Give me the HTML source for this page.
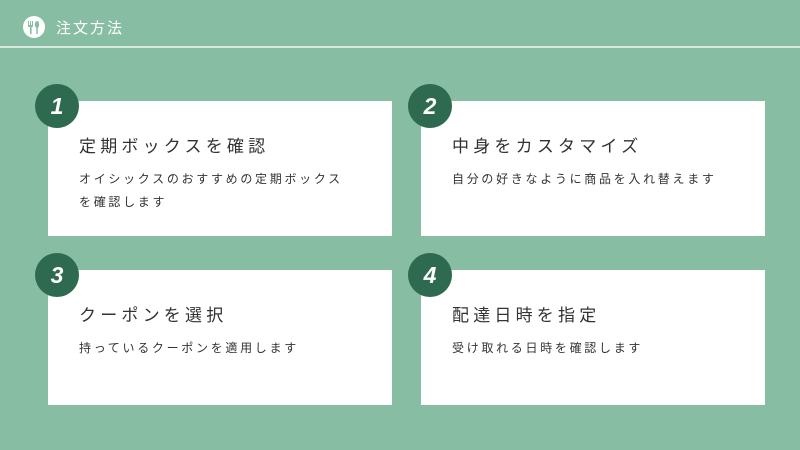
<!DOCTYPE html><html><head><meta charset="utf-8"><style>
body{margin:0;width:800px;height:450px;background:#87bea3;position:relative;overflow:hidden;font-family:"Liberation Sans","Noto Sans CJK JP",sans-serif}
.hd{position:absolute;left:56px;top:17px;color:#fff;font-size:15px;letter-spacing:2px}
.line{position:absolute;left:0;top:46px;width:800px;height:2px;background:#d6e8de}
.ic{position:absolute;left:23px;top:16px;width:22px;height:22px;border-radius:50%;background:#fff}
.card{position:absolute;width:344px;height:135px;background:#fff}
.num{position:absolute;width:44px;height:44px;border-radius:50%;background:#2e6a4f;color:#fff;font-size:23px;font-weight:bold;font-style:italic;text-align:center;line-height:44px}
.t{position:absolute;left:31px;top:31px;font-size:17px;color:#333;letter-spacing:4.2px}
.b{position:absolute;left:31px;top:67px;font-size:12px;color:#333;letter-spacing:2.7px;line-height:23px;width:300px}
</style></head><body>
<div class="ic"><svg width="22" height="22"><g fill="#87bea3"><rect x="7" y="5" width="1" height="5"/><rect x="9" y="5" width="1" height="5"/><rect x="5" y="5" width="1" height="5"/><rect x="5" y="9" width="5" height="2"/><rect x="7" y="10" width="1.6" height="8"/><ellipse cx="14" cy="8.5" rx="2.2" ry="3.5"/><rect x="13.3" y="11" width="1.5" height="7"/></g></svg></div>
<div class="hd">注文方法</div><div class="line"></div>
<div class="card" style="left:48px;top:101px"><div class="t">定期ボックスを確認</div><div class="b">オイシックスのおすすめの定期ボックス<br>を確認します</div></div>
<div class="card" style="left:421px;top:101px"><div class="t">中身をカスタマイズ</div><div class="b">自分の好きなように商品を入れ替えます</div></div>
<div class="card" style="left:48px;top:270px"><div class="t">クーポンを選択</div><div class="b">持っているクーポンを適用します</div></div>
<div class="card" style="left:421px;top:270px"><div class="t">配達日時を指定</div><div class="b">受け取れる日時を確認します</div></div>
<div class="num" style="left:35px;top:84px">1</div>
<div class="num" style="left:408px;top:84px">2</div>
<div class="num" style="left:35px;top:253px">3</div>
<div class="num" style="left:408px;top:253px">4</div>
</body></html>
